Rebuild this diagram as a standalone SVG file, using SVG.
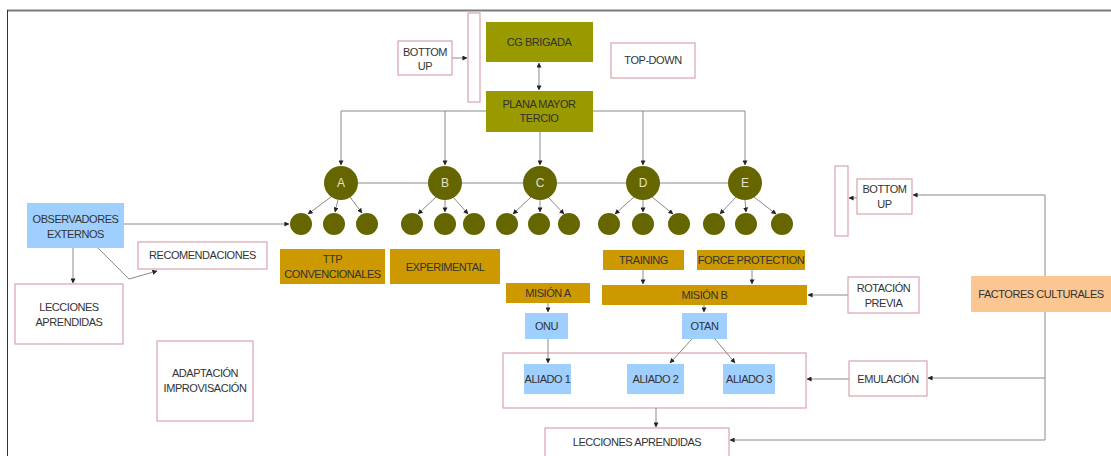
<svg xmlns="http://www.w3.org/2000/svg" width="1111" height="456" viewBox="0 0 1111 456">
  <defs>
    <marker id="ah" viewBox="0 0 6 6" refX="5.5" refY="3" markerWidth="5" markerHeight="5" markerUnits="userSpaceOnUse" orient="auto-start-reverse">
      <path d="M0,0 L6,3 L0,6 z" fill="#222"/>
    </marker>
    <style>
      text { font-family: "Liberation Sans", Arial, sans-serif; font-size: 11px; letter-spacing: -0.45px; fill: #333; text-anchor: middle; }
      .pink { fill: #fff; stroke: #d9a3ab; stroke-width: 1.2; }
      .frame { fill: none; stroke: #d9a3ab; stroke-width: 1.2; }
      .olive { fill: #999900; }
      .gold { fill: #cc9900; }
      .blue { fill: #9fcfff; }
      .peach { fill: #fcc692; }
      .big { fill: #666600; }
      .small { fill: #666600; }
      .ctext { fill: #e2e2c4; font-size: 12px; letter-spacing: 0; }
      .con { fill: none; stroke: #8a8a8a; stroke-width: 1; }
      .arr { marker-end: url(#ah); }
    </style>
  </defs>

  <rect width="1111" height="456" fill="#fff"/>
  <!-- frame -->
  <line x1="7" y1="10.5" x2="1111" y2="10.5" stroke="#7a7a7a" stroke-width="2"/>
  <line x1="7.5" y1="10" x2="7.5" y2="456" stroke="#333" stroke-width="1"/>

  <!-- allies container, drawn under the connectors -->
  <g id="aliados"><rect class="frame" x="503" y="353" width="303" height="55"/></g>

  <!-- connectors -->
  <g id="connectors">
    <line class="con arr" x1="452" y1="58" x2="467" y2="58"/>
    <line class="con arr" x1="539" y1="63" x2="539" y2="90" style="marker-start:url(#ah)"/>
    <polyline class="con arr" points="486,111 341,111 341,165"/>
    <line class="con arr" x1="445" y1="111" x2="445" y2="165"/>
    <line class="con arr" x1="540" y1="132" x2="540" y2="165"/>
    <polyline class="con arr" points="593,111 745,111 745,165"/>
    <line class="con arr" x1="643" y1="111" x2="643" y2="165"/>
    <!-- row of leaders -->
    <line class="con" x1="358" y1="183" x2="428" y2="183"/>
    <line class="con" x1="462" y1="183" x2="523" y2="183"/>
    <line class="con" x1="557" y1="183" x2="626" y2="183"/>
    <line class="con" x1="660" y1="183" x2="728" y2="183"/>
    <!-- A -->
    <line class="con arr" x1="331" y1="197" x2="308" y2="214"/>
    <line class="con arr" x1="338" y1="200" x2="335" y2="212"/>
    <line class="con arr" x1="350" y1="197" x2="362" y2="213"/>
    <!-- B -->
    <line class="con arr" x1="436" y1="197" x2="418" y2="214"/>
    <line class="con arr" x1="445" y1="200" x2="445" y2="212"/>
    <line class="con arr" x1="453" y1="197" x2="468" y2="214"/>
    <!-- C -->
    <line class="con arr" x1="531" y1="197" x2="513" y2="214"/>
    <line class="con arr" x1="540" y1="200" x2="540" y2="212"/>
    <line class="con arr" x1="548" y1="197" x2="564" y2="214"/>
    <!-- D -->
    <line class="con arr" x1="634" y1="197" x2="615" y2="214"/>
    <line class="con arr" x1="643" y1="200" x2="643" y2="212"/>
    <line class="con arr" x1="652" y1="197" x2="673" y2="214"/>
    <!-- E -->
    <line class="con arr" x1="736" y1="197" x2="720" y2="214"/>
    <line class="con arr" x1="745" y1="200" x2="746" y2="212"/>
    <line class="con arr" x1="754" y1="197" x2="776" y2="214"/>
    <!-- observers -->
    <line class="con arr" x1="124" y1="224" x2="289" y2="224"/>
    <line class="con arr" x1="73" y1="248" x2="73" y2="283"/>
    <polyline class="con arr" points="98,248 129,279 157,271"/>
    <!-- missions -->
    <line class="con arr" x1="643" y1="270" x2="643" y2="284"/>
    <line class="con arr" x1="752" y1="270" x2="752" y2="284"/>
    <line class="con arr" x1="548" y1="303" x2="548" y2="312"/>
    <line class="con arr" x1="704" y1="305" x2="704" y2="312"/>
    <line class="con arr" x1="548" y1="339" x2="548" y2="363"/>
    <line class="con arr" x1="692" y1="339" x2="670" y2="363"/>
    <line class="con arr" x1="715" y1="339" x2="735" y2="363"/>
    <line class="con arr" x1="656" y1="408" x2="656" y2="427"/>
    <line class="con arr" x1="848" y1="295" x2="808" y2="295"/>
    <line class="con arr" x1="849" y1="379" x2="807" y2="379"/>
    <line class="con arr" x1="857" y1="198" x2="849" y2="198"/>
    <!-- cultural factors -->
    <polyline class="con arr" points="1045,276 1045,195 913,195"/>
    <polyline class="con" points="1045,312 1045,440"/>
    <line class="con arr" x1="1045" y1="378" x2="928" y2="378"/>
    <line class="con arr" x1="1045" y1="440" x2="730" y2="440"/>
  </g>

  <g id="bottom-up-1"><rect class="pink" x="398" y="41" width="54" height="34"/><text x="425" y="56">BOTTOM</text><text x="425" y="70">UP</text></g>
  <g id="bar-1"><rect class="pink" x="468" y="13" width="12" height="89"/></g>
  <g id="cg-brigada"><rect class="olive" x="486" y="22" width="107" height="40"/><text x="539" y="46">CG BRIGADA</text></g>
  <g id="plana-mayor"><rect class="olive" x="486" y="91" width="107" height="41"/><text x="539" y="108">PLANA MAYOR</text><text x="539" y="122">TERCIO</text></g>
  <g id="top-down"><rect class="pink" x="611" y="43" width="84" height="35"/><text x="653" y="64">TOP-DOWN</text></g>

  <g id="circle-a"><circle class="big" cx="341" cy="183" r="17"/><text class="ctext" x="341" y="187">A</text></g>
  <g id="circle-b"><circle class="big" cx="445" cy="183" r="17"/><text class="ctext" x="445" y="187">B</text></g>
  <g id="circle-c"><circle class="big" cx="540" cy="183" r="17"/><text class="ctext" x="540" y="187">C</text></g>
  <g id="circle-d"><circle class="big" cx="643" cy="183" r="17"/><text class="ctext" x="643" y="187">D</text></g>
  <g id="circle-e"><circle class="big" cx="745" cy="183" r="17"/><text class="ctext" x="745" y="187">E</text></g>

  <g id="units-a"><circle class="small" cx="301" cy="224" r="11"/><circle class="small" cx="334" cy="224" r="11"/><circle class="small" cx="367" cy="224" r="11"/></g>
  <g id="units-b"><circle class="small" cx="412" cy="224" r="11"/><circle class="small" cx="445" cy="224" r="11"/><circle class="small" cx="474" cy="224" r="11"/></g>
  <g id="units-c"><circle class="small" cx="507" cy="224" r="11"/><circle class="small" cx="539" cy="224" r="11"/><circle class="small" cx="569" cy="224" r="11"/></g>
  <g id="units-d"><circle class="small" cx="609" cy="224" r="11"/><circle class="small" cx="643" cy="224" r="11"/><circle class="small" cx="679" cy="224" r="11"/></g>
  <g id="units-e"><circle class="small" cx="714" cy="224" r="11"/><circle class="small" cx="746" cy="224" r="11"/><circle class="small" cx="782" cy="224" r="11"/></g>

  <g id="observadores"><rect class="blue" x="27" y="203" width="97" height="45"/><text x="75.5" y="223">OBSERVADORES</text><text x="75.5" y="238">EXTERNOS</text></g>
  <g id="recomendaciones"><rect class="pink" x="138" y="242" width="129" height="27"/><text x="202.5" y="259">RECOMENDACIONES</text></g>
  <g id="lecciones-1"><rect class="pink" x="15" y="284" width="108" height="60"/><text x="69" y="311">LECCIONES</text><text x="69" y="326">APRENDIDAS</text></g>
  <g id="adaptacion"><rect class="pink" x="157" y="341" width="96" height="80"/><text x="205" y="377">ADAPTACIÓN</text><text x="205" y="392">IMPROVISACIÓN</text></g>

  <g id="ttp"><rect class="gold" x="280" y="249" width="105" height="35"/><text x="332.5" y="263">TTP</text><text x="332.5" y="278">CONVENCIONALES</text></g>
  <g id="experimental"><rect class="gold" x="390" y="249" width="110" height="35"/><text x="445" y="271">EXPERIMENTAL</text></g>
  <g id="training"><rect class="gold" x="603" y="250" width="81" height="20"/><text x="643.5" y="264">TRAINING</text></g>
  <g id="force-protection"><rect class="gold" x="697" y="250" width="108" height="20"/><text x="751" y="264">FORCE PROTECTION</text></g>
  <g id="mision-a"><rect class="gold" x="506" y="283" width="84" height="20"/><text x="548" y="297">MISIÓN A</text></g>
  <g id="mision-b"><rect class="gold" x="602" y="285" width="205" height="20"/><text x="704.5" y="299">MISIÓN B</text></g>
  <g id="onu"><rect class="blue" x="525" y="313" width="43" height="26"/><text x="546.5" y="330">ONU</text></g>
  <g id="otan"><rect class="blue" x="682" y="313" width="45" height="26"/><text x="704.5" y="330">OTAN</text></g>

  <g id="aliado-1"><rect class="blue" x="524" y="364" width="47" height="30"/><text x="547.5" y="383">ALIADO 1</text></g>
  <g id="aliado-2"><rect class="blue" x="627" y="364" width="57" height="30"/><text x="655.5" y="383">ALIADO 2</text></g>
  <g id="aliado-3"><rect class="blue" x="723" y="364" width="52" height="30"/><text x="749" y="383">ALIADO 3</text></g>

  <g id="rotacion"><rect class="pink" x="848" y="277" width="71" height="36"/><text x="883.5" y="292">ROTACIÓN</text><text x="883.5" y="307">PREVIA</text></g>
  <g id="bar-2"><rect class="pink" x="835" y="166" width="13" height="70"/></g>
  <g id="bottom-up-2"><rect class="pink" x="857" y="179" width="55" height="35"/><text x="884.5" y="193">BOTTOM</text><text x="884.5" y="208">UP</text></g>
  <g id="factores"><rect class="peach" x="971" y="276" width="141" height="36"/><text x="1041" y="298">FACTORES CULTURALES</text></g>
  <g id="emulacion"><rect class="pink" x="849" y="361" width="78" height="35"/><text x="888" y="383">EMULACIÓN</text></g>
  <g id="lecciones-2"><rect class="pink" x="545" y="428" width="184" height="40"/><text x="637" y="446">LECCIONES APRENDIDAS</text></g>
</svg>
